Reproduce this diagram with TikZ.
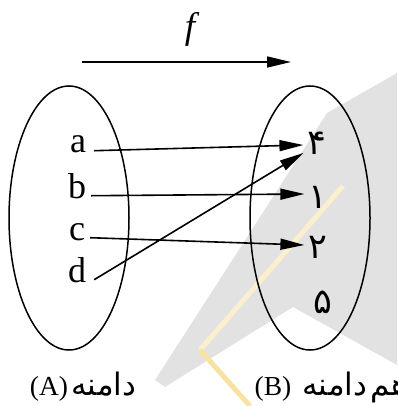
\documentclass[tikz,border=0pt]{standalone}
\usepackage{fontspec}
\setmainfont{Liberation Serif}
\newfontfamily\arabicfont[Script=Arabic]{DejaVu Sans}
\newfontfamily\arabiccap[Script=Arabic, WordSpace=0.35]{DejaVu Sans}
\TeXXeTstate=1
\usetikzlibrary{arrows.meta}
\definecolor{wmgray}{HTML}{E2E2E2}
\definecolor{wmyellow}{HTML}{FBEFCF}
\definecolor{wmyellow2}{HTML}{F8E2A2}
\begin{document}
\begin{tikzpicture}[x=1pt,y=-1pt,
 lbl/.style={font=\fontsize{36}{40}\selectfont, inner sep=0pt, anchor=base},
 dig/.style={font=\arabicfont\fontsize{35}{38}\selectfont, inner xsep=4pt, inner ysep=0pt},
 captxt/.style={font=\fontsize{27.5}{30}\selectfont, inner sep=0pt, anchor=base},
 pers/.style={font=\arabiccap\fontsize{31}{34}\selectfont, inner sep=0pt, anchor=base west},
 arr/.style={line width=1.6pt, -{Triangle[length=24pt,width=11pt]}},
 setline/.style={line width=1.5pt}
]
\useasboundingbox (0,0) rectangle (397,406);
% watermark
\fill[wmgray] (155,380) -- (327,113) -- (397,73) -- (397,365) -- (293,307) -- (165,387) -- cycle;
\draw[line width=5pt, wmyellow] (343,186) -- (200,350);
\draw[line width=5pt, wmyellow2] (200,350) -- (250,406);
% sets
\draw[setline] (69,218) ellipse [x radius=60, y radius=132];
\draw[setline] (310,218) ellipse [x radius=60, y radius=132];
% f arrow
\node[font=\itshape\fontsize{37}{40}\selectfont, inner sep=0pt] (f) at (190,29) {f};
\coordinate (fs) at (82,62);
\coordinate (fe) at (291,62);
\draw[arr] (fs) -- (fe);
% domain elements
\node[lbl] (a) at (78,153) {a};
\node[lbl] (b) at (77,198) {b};
\node[lbl] (c) at (77,240) {c};
\node[lbl] (d) at (77,282) {d};
% codomain elements
\node[dig] (n4) at (317,143) {۴};
\node[dig] (n1) at (318,197) {۱};
\node[dig] (n2) at (318,247) {۲};
\node[dig] (n5) at (323,302) {۵};
% mapping
\draw[arr] ([xshift=8pt]a.mid east) -- ([yshift=-2pt]n4.west);
\draw[arr] ([xshift=5pt]b.mid east) -- ([yshift=3pt]n1.west);
\draw[arr] ([xshift=5pt]c.mid east) -- ([yshift=2pt]n2.west);
\draw[arr] ([xshift=8pt]d.mid east) -- ([yshift=-10pt]n4.west);
% captions
\node[captxt] (A) at (49,395) {(A)};
\node[pers] (dA) at (71,395) {\beginR دامنه\endR};
\node[captxt] (B) at (273,395) {(B)};
\node[pers] (dB) at (302,395) {\beginR هم دامنه\endR};
\end{tikzpicture}
\end{document}
